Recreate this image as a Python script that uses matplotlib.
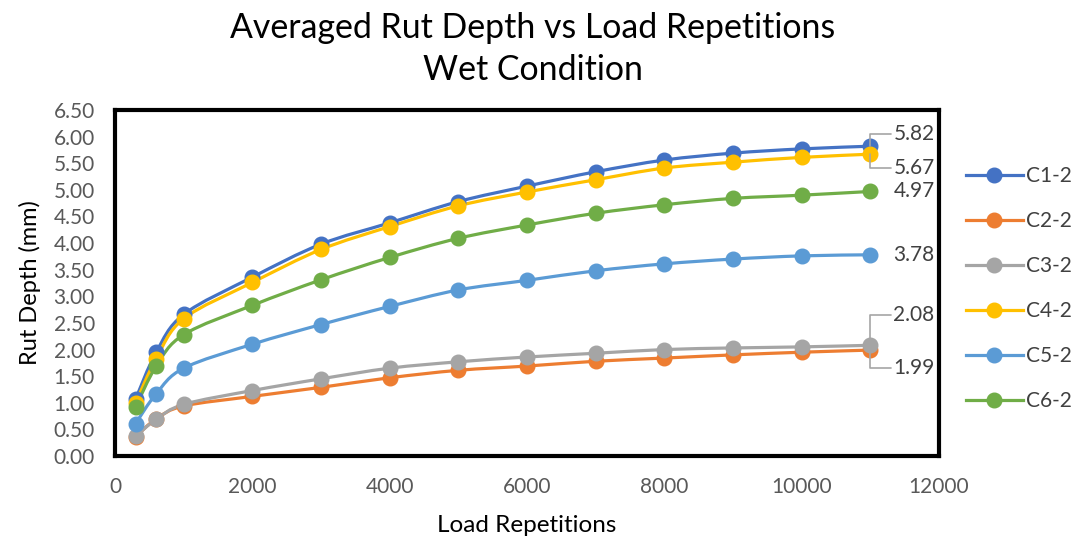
# averaged rut depth vs load repetitions (wet condition)
import numpy as np
import matplotlib
matplotlib.use('Agg')
import matplotlib.pyplot as plt
from matplotlib.path import Path
from matplotlib.patches import PathPatch
from matplotlib.lines import Line2D

plt.rcParams['font.family'] = ['Lato', 'DejaVu Sans']

# data
load_reps = [300, 600, 1000, 2000, 3000, 4000, 5000, 6000, 7000, 8000, 9000, 10000, 11000]
series_names = ['C1-2', 'C2-2', 'C3-2', 'C4-2', 'C5-2', 'C6-2']
c1_2 = [1.07, 1.95, 2.66, 3.36, 3.98, 4.38, 4.78, 5.07, 5.34, 5.56, 5.69, 5.77, 5.82]
c2_2 = [0.36, 0.70, 0.94, 1.12, 1.29, 1.47, 1.61, 1.69, 1.78, 1.84, 1.90, 1.95, 1.99]
c3_2 = [0.37, 0.69, 0.97, 1.23, 1.45, 1.65, 1.77, 1.86, 1.93, 2.00, 2.03, 2.05, 2.08]
c4_2 = [1.00, 1.83, 2.58, 3.26, 3.88, 4.31, 4.70, 4.96, 5.19, 5.41, 5.52, 5.61, 5.67]
c5_2 = [0.61, 1.17, 1.65, 2.10, 2.47, 2.81, 3.12, 3.30, 3.48, 3.61, 3.70, 3.76, 3.78]
c6_2 = [0.92, 1.69, 2.28, 2.83, 3.31, 3.73, 4.09, 4.34, 4.56, 4.72, 4.84, 4.90, 4.97]
all_series = [c1_2, c2_2, c3_2, c4_2, c5_2, c6_2]

colors = ['#4472C4', '#ED7D31', '#A5A5A5', '#FFC000', '#5B9BD5', '#70AD47']
# where the end labels sit, offset in pixels from the last point (False = no leader)
label_offsets = [(23, 12, True), (23, -18, True), (23, 30, True),
                 (23, -14, True), (23, 0, False), (23, 0, False)]


def smooth_path(xs, ys):
    # excel-like smoothed line: catmull-rom segments as cubic beziers
    p = np.column_stack([xs, ys]).astype(float)
    verts = [p[0]]
    codes = [Path.MOVETO]
    n = len(p)
    for i in range(n - 1):
        p0 = p[i - 1] if i > 0 else p[i]
        p1 = p[i]
        p2 = p[i + 1]
        p3 = p[i + 2] if i + 2 < n else p[i + 1]
        verts += [p1 + (p2 - p0) / 6, p2 - (p3 - p1) / 6, p2]
        codes += [Path.CURVE4] * 3
    return Path(verts, codes)


fig = plt.figure(figsize=(10.74, 5.43), dpi=100)
ax = fig.add_axes([0.1071, 0.1602, 0.7672, 0.6372])

for name, vals, col in zip(series_names, all_series, colors):
    patch = PathPatch(smooth_path(load_reps, vals), facecolor='none', edgecolor=col,
                      lw=2.3, capstyle='round', joinstyle='round')
    ax.add_patch(patch)
    ax.plot(load_reps, vals, 'o', color=col, markersize=10.5, linestyle='none')

for vals, (dx, dy, leader) in zip(all_series, label_offsets):
    kw = dict()
    if leader:
        kw['arrowprops'] = dict(arrowstyle='-', color='#A5A5A5', lw=1.2, shrinkA=0, shrinkB=0,
                                relpos=(0, 0.5),
                                connectionstyle='angle,angleA=0,angleB=90,rad=0')
    ax.annotate('%.2f' % vals[-1], xy=(load_reps[-1], vals[-1]), xytext=(dx, dy),
                textcoords='offset pixels', ha='left', va='center',
                fontsize=15, color='#404040', **kw)

ax.set_xlim(0, 12000)
ax.set_ylim(0, 6.5)
ax.set_xticks(np.arange(0, 12001, 2000))
ax.set_yticks(np.arange(0, 6.51, 0.5))
ax.set_yticklabels(['%.2f' % v for v in np.arange(0, 6.51, 0.5)])
ax.tick_params(length=0, labelsize=15, labelcolor='#595959')
ax.tick_params(axis='x', pad=15)
ax.tick_params(axis='y', pad=14.5)
for s in ax.spines.values():
    s.set_linewidth(3)
    s.set_color('black')

ax.set_xlabel('Load Repetitions', fontsize=17.5, labelpad=13)
ax.set_ylabel('Rut Depth (mm)', fontsize=17, labelpad=9)
fig.suptitle('Averaged Rut Depth vs Load Repetitions\nWet Condition', fontsize=24.4,
             x=0.496, y=0.978, linespacing=1.38)

handles = [Line2D([], [], color=c, lw=2.3, marker='o', markersize=10.5) for c in colors]
fig.legend(handles, series_names, loc='center left', bbox_to_anchor=(0.899, 0.468),
           frameon=False, fontsize=15, handlelength=2.75, labelspacing=1.2,
           handletextpad=0.15, borderpad=0, borderaxespad=0, labelcolor='#404040')

fig.savefig('out.png', dpi=100)
